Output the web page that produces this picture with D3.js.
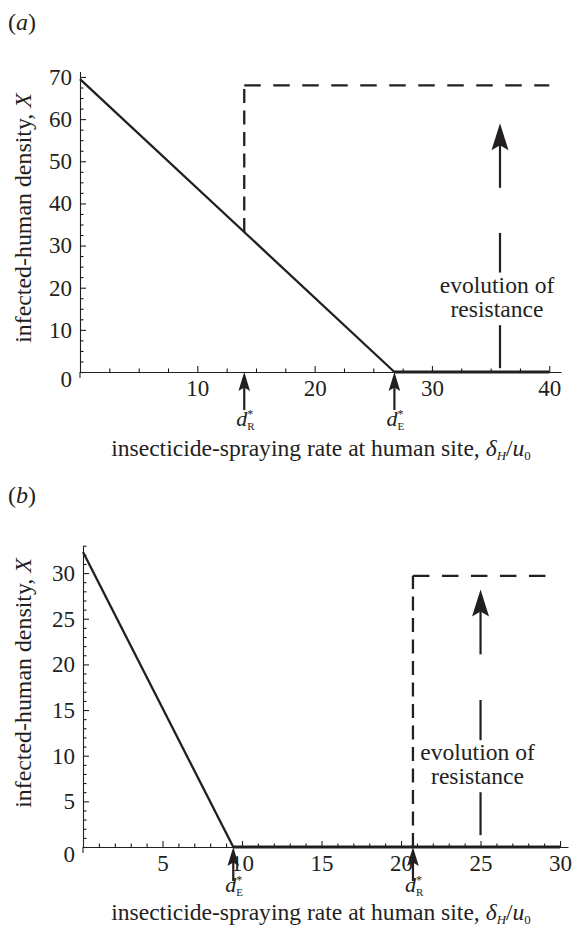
<!DOCTYPE html>
<html>
<head>
<meta charset="utf-8">
<script src="https://cdn.jsdelivr.net/npm/d3@7"></script>
<style>
  body { margin: 0; background: #fff; }
  svg { display: block; font-family: "Liberation Serif", "Times New Roman", serif; }
</style>
</head>
<body>
<svg id="chart" width="572" height="933"></svg>
<script>
// ---- panel (a) data ----
var aXTicks = [10, 20, 30, 40];
var aYTicks = [0, 10, 20, 30, 40, 50, 60, 70];
var aEquilibrium = [[0, 69.5], [26.8, 0]];        // falls to zero at d_E*
var aEliminated = [[26.8, 0], [40, 0]];
var aResistant = [[14, 33.2], [14, 68], [40, 68]]; // after resistance evolves
var aMarkers = [{x: 14, sub: 'R'}, {x: 26.8, sub: 'E'}];
var aEvolveX = 35.8;
var aEvolveHead = [59, 43.7];                      // arrow tip, shaft end
var aEvolveDashes = [[33, 23.6], [11.1, 0.9]];

// ---- panel (b) data ----
var bXTicks = [5, 10, 15, 20, 25, 30];
var bYTicks = [0, 5, 10, 15, 20, 25, 30];
var bEquilibrium = [[0, 32.3], [9.45, 0]];
var bEliminated = [[9.45, 0], [30, 0]];
var bResistant = [[20.75, 0], [20.75, 29.7], [29.6, 29.7]];
var bMarkers = [{x: 9.45, sub: 'E'}, {x: 20.75, sub: 'R'}];
var bEvolveX = 25;
var bEvolveHead = [28.2, 21.1];
var bEvolveDashes = [[16.1, 11.7], [6.0, 1.3]];

var ink = '#231f20';
var svg = d3.select('#chart');

// scale a text's font so that it spans the wanted width
var fitWidth = function(t, base, want) {
  t.style('font-size', base + 'px');
  var w = t.node().getComputedTextLength();
  if (w > 0) t.style('font-size', (base * want / w) + 'px');
};

var drawPanel = function(p) {
  var g = svg.append('g');
  var x = d3.scaleLinear().domain(p.xDomain).range(p.xRange);
  var y = d3.scaleLinear().domain(p.yDomain).range(p.yRange);
  var line = d3.line().x(d => x(d[0])).y(d => y(d[1]));

  // panel letter
  var lt = g.append('text').attr('x', 8).attr('y', p.letterY).style('font-size', '24px').attr('fill', ink);
  lt.append('tspan').text('(');
  lt.append('tspan').attr('font-style', 'italic').text(p.letter);
  lt.append('tspan').text(')');

  // minor ticks
  var xMinor = d3.range(0, p.xDomain[1] + 0.001, p.xMinor).filter(v => v > 0 && p.xTicks.indexOf(v) < 0);
  var yMinor = d3.range(0, p.yDomain[1] + 0.001, p.yMinor).filter(v => v > 0 && p.yTicks.indexOf(v) < 0);
  g.append('g')
    .attr('transform', 'translate(0,' + y(0) + ')')
    .call(d3.axisBottom(x).tickValues(xMinor).tickSize(-3.5).tickFormat(''))
    .call(a => a.select('.domain').remove());
  g.append('g')
    .attr('transform', 'translate(' + x(0) + ',0)')
    .call(d3.axisLeft(y).tickValues(yMinor).tickSize(-3.5).tickFormat(''))
    .call(a => a.select('.domain').remove());

  // main axes
  var xa = g.append('g')
    .attr('transform', 'translate(0,' + y(0) + ')')
    .call(d3.axisBottom(x).tickValues(p.xTicks).tickSize(-6).tickSizeOuter(0).tickPadding(7.5).tickFormat(d3.format('d')));
  var ya = g.append('g')
    .attr('transform', 'translate(' + x(0) + ',0)')
    .call(d3.axisLeft(y).tickValues(p.yTicks).tickSize(-6).tickSizeOuter(0).tickPadding(8).tickFormat(d3.format('d')));
  [xa, ya].forEach(function(a) {
    a.selectAll('path, line').attr('stroke', ink).attr('stroke-width', 1.1);
    a.selectAll('text').style('font-size', '23px').attr('fill', ink)
      .style('font-family', '"Liberation Serif", "Times New Roman", serif');
  });
  ya.selectAll('.tick').filter(d => d === 0).select('text').attr('dy', '0.65em');
  // y axis runs a little below the x axis
  g.append('line')
    .attr('x1', x(0)).attr('x2', x(0))
    .attr('y1', y(0)).attr('y2', y(0) + 6)
    .attr('stroke', ink).attr('stroke-width', 1.1);

  // curves
  g.append('path').datum(p.equilibrium).attr('d', line)
    .attr('fill', 'none').attr('stroke', ink).attr('stroke-width', 2.3);
  g.append('path').datum(p.eliminated).attr('d', line)
    .attr('fill', 'none').attr('stroke', ink).attr('stroke-width', 3);
  // dashed branch: vertical leg then horizontal leg
  g.append('path').datum(p.resistant.slice(0, 2)).attr('d', line)
    .attr('fill', 'none').attr('stroke', ink).attr('stroke-width', 2.3)
    .attr('stroke-dasharray', '14,7.5');
  g.append('path').datum(p.resistant.slice(1)).attr('d', line)
    .attr('fill', 'none').attr('stroke', ink).attr('stroke-width', 2.3)
    .attr('stroke-dasharray', '16.5,12.5');

  // threshold markers under the axis
  p.markers.forEach(function(m) {
    var mx = x(m.x), y0 = y(0);
    g.append('line')
      .attr('x1', mx).attr('x2', mx).attr('y1', y0 + 12).attr('y2', y0 + p.markerLen)
      .attr('stroke', ink).attr('stroke-width', 2.2);
    g.append('path')
      .attr('d', 'M' + mx + ',' + y0 + 'L' + (mx - 5.8) + ',' + (y0 + 19) + 'L' + mx + ',' + (y0 + 15.5) +
                 'L' + (mx + 5.8) + ',' + (y0 + 19) + 'Z')
      .attr('fill', ink);
    var t = g.append('text').attr('x', mx - 8).attr('y', y0 + p.markerLabel).attr('fill', ink)
      .style('font-size', '22px');
    t.append('tspan').attr('font-style', 'italic').text('d');
    t.append('tspan').style('font-size', '12px').attr('dy', -8).text('*');
    t.append('tspan').style('font-size', '11px').attr('dx', -6).attr('dy', 12).text(m.sub);
  });

  // evolution of resistance arrow
  var ex = x(p.evolveX);
  var tip = y(p.evolveHead[0]);
  g.append('line')
    .attr('x1', ex).attr('x2', ex).attr('y1', tip + 20).attr('y2', y(p.evolveHead[1]))
    .attr('stroke', ink).attr('stroke-width', 2.2);
  g.append('path')
    .attr('d', 'M' + ex + ',' + tip + 'L' + (ex - 8.5) + ',' + (tip + 27) + 'L' + ex + ',' + (tip + 22) +
               'L' + (ex + 8.5) + ',' + (tip + 27) + 'Z')
    .attr('fill', ink);
  p.evolveDashes.forEach(function(s) {
    g.append('line')
      .attr('x1', ex).attr('x2', ex).attr('y1', y(s[0])).attr('y2', y(s[1]))
      .attr('stroke', ink).attr('stroke-width', 2.2);
  });
  var lowTop = y(p.evolveDashes[1][0]);
  var e1 = g.append('text').attr('x', ex - 3).attr('y', lowTop - 32).attr('text-anchor', 'middle')
    .attr('fill', ink).text('evolution of');
  var e2 = g.append('text').attr('x', ex - 3).attr('y', lowTop - 8).attr('text-anchor', 'middle')
    .attr('fill', ink).text('resistance');
  fitWidth(e2, 23, 93);
  e1.style('font-size', e2.style('font-size'));

  // axis titles
  var xl = g.append('text').attr('x', 321).attr('y', y(0) + p.xTitleDy)
    .attr('text-anchor', 'middle').attr('fill', ink);
  xl.append('tspan').text('insecticide-spraying rate at human site, ');
  xl.append('tspan').attr('font-style', 'italic').text('δ');
  xl.append('tspan').attr('font-style', 'italic').style('font-size', '0.55em').attr('dy', '0.3em').text('H');
  xl.append('tspan').attr('dy', '-0.17em').text('/');
  xl.append('tspan').attr('font-style', 'italic').text('u');
  xl.append('tspan').style('font-size', '0.55em').attr('dy', '0.3em').text('0');
  fitWidth(xl, 23, 420);

  var yl = g.append('text')
    .attr('transform', 'translate(31,' + p.yTitleY + ') rotate(-90)')
    .attr('text-anchor', 'middle').attr('fill', ink);
  yl.append('tspan').text('infected-human density, ');
  yl.append('tspan').attr('font-style', 'italic').text('X');
  fitWidth(yl, 23, 250);
};

drawPanel({
  letter: 'a', letterY: 30,
  xDomain: [0, 41], xRange: [80, 561],
  yDomain: [0, 71.3], yRange: [372, 71.5],
  xTicks: aXTicks, yTicks: aYTicks, xMinor: 2.5, yMinor: 2.5,
  equilibrium: aEquilibrium, eliminated: aEliminated, resistant: aResistant,
  markers: aMarkers, markerLen: 38, markerLabel: 54,
  evolveX: aEvolveX, evolveHead: aEvolveHead, evolveDashes: aEvolveDashes,
  xTitleDy: 84, yTitleY: 218
});

drawPanel({
  letter: 'b', letterY: 503,
  xDomain: [0, 30.5], xRange: [83, 568],
  yDomain: [0, 33], yRange: [847, 545.7],
  xTicks: bXTicks, yTicks: bYTicks, xMinor: 1, yMinor: 1,
  equilibrium: bEquilibrium, eliminated: bEliminated, resistant: bResistant,
  markers: bMarkers, markerLen: 34, markerLabel: 45,
  evolveX: bEvolveX, evolveHead: bEvolveHead, evolveDashes: bEvolveDashes,
  xTitleDy: 73, yTitleY: 683
});
</script>
</body>
</html>
